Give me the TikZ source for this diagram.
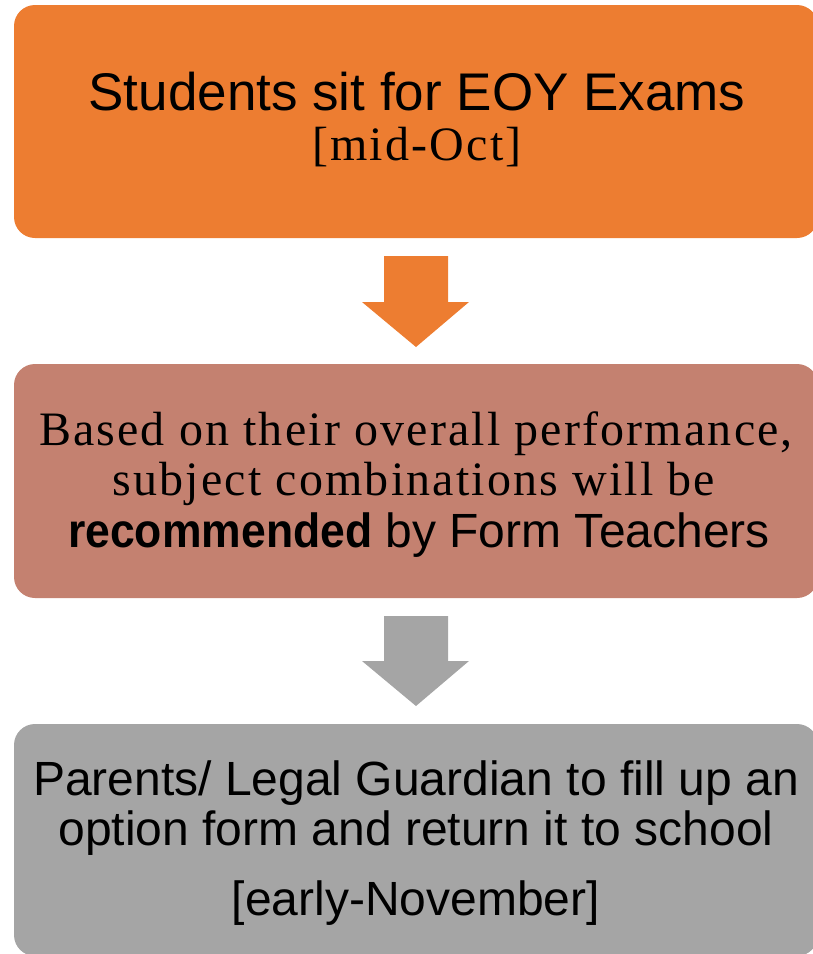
\documentclass[tikz,border=0pt]{standalone}
\usepackage{fontspec}
\setmainfont{Liberation Serif}
\setsansfont{Liberation Sans}
\newfontfamily\spacedserif[LetterSpace=4.5]{Liberation Serif}
\definecolor{boxorange}{HTML}{ED7D31}
\definecolor{boxrose}{HTML}{C48170}
\definecolor{boxgray}{HTML}{A5A5A5}
\begin{document}
\begin{tikzpicture}[x=1pt,y=-1pt,
  stagebox/.style={rounded corners=21pt},
  line/.style={anchor=base,inner sep=0pt,text=black},
  sanstext/.style={font=\sffamily\fontsize{48}{56}\selectfont},
  bigsans/.style={font=\sffamily\fontsize{53}{60}\selectfont},
  spaced/.style={font=\spacedserif\fontsize{48}{56}\selectfont}]
\useasboundingbox (0,0) rectangle (813,954);
% boxes
\fill[boxorange,stagebox] (14,5) rectangle (818,238);
\node[inner sep=0pt,minimum width=804pt,minimum height=233pt] (b1) at (416,121.5) {};
\fill[boxrose,stagebox] (14,364) rectangle (818,598);
\node[inner sep=0pt,minimum width=804pt,minimum height=234pt] (b2) at (416,481) {};
\fill[boxgray,stagebox] (14,724) rectangle (818,956);
\node[inner sep=0pt,minimum width=804pt,minimum height=232pt] (b3) at (416,840) {};
% arrows
\fill[boxorange] (384,256) -- (448,256) -- (448,302) -- (469,302) -- (416,347)
  -- (362,302) -- (384,302) -- cycle;
\fill[boxgray] (384,616) -- (448,616) -- (448,661) -- (469,661) -- (416,706)
  -- (362,661) -- (384,661) -- cycle;
% texts
\node[line,bigsans] (t1a) at (417,110) {Students sit for EOY Exams};
\node[line,spaced] (t1b) at (417,160) {[mid-Oct]};
\node[line,spaced] (t2a) at (416,445) {Based on their overall performance,};
\node[line,spaced] (t2b) at (414,495) {subject combinations will be};
\node[line,sanstext] (t2c) at (419,547) {\scalebox{0.927}[1]{\bfseries recommended} by Form Teachers};
\node[line,sanstext] (t3a) at (416,795) {Parents/ Legal Guardian to fill up an};
\node[line,sanstext] (t3b) at (416,845) {option form and return it to school};
\node[line,sanstext] (t3c) at (416,915) {[early-November]};
\end{tikzpicture}
\end{document}
